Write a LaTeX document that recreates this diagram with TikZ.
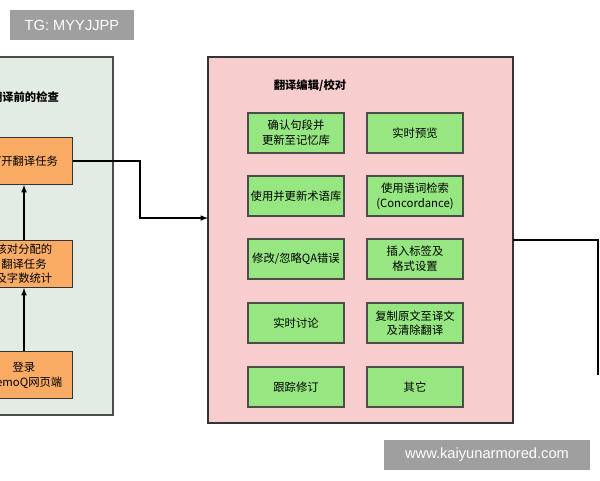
\documentclass[tikz,border=0pt]{standalone}
\usepackage{fontspec}
\setmainfont{Liberation Sans}
\newfontfamily\cjk{Noto Sans CJK SC}
\definecolor{orgf}{RGB}{250,172,100}
\definecolor{grnf}{RGB}{150,230,130}
\definecolor{lpan}{RGB}{226,236,226}
\definecolor{pink}{RGB}{248,205,205}
\begin{document}
\begin{tikzpicture}[x=0.75pt,y=-0.75pt,
 every node/.style={font=\cjk\fontsize{8.5}{11}\selectfont,align=center},
 org/.style={draw=black!80,fill=orgf,line width=0.9pt,minimum width=73pt,minimum height=35pt,inner sep=0},
 grn/.style={draw=black!70,fill=grnf,line width=0.9pt,minimum width=72pt,minimum height=30pt,inner sep=0},
 con/.style={line width=0.9pt,-latex}]
\useasboundingbox (0,0) rectangle (600,480);
\clip (0,0) rectangle (600,480);
\fill[white] (0,0) rectangle (600,480);
\draw[fill=lpan,draw=black!70,line width=0.8pt] (-20,57) rectangle (113,415);
\node[font=\cjk\bfseries\fontsize{8.5}{11}\selectfont] (t1) at (25,97) {翻译前的检查};
\node[org] (open) at (24,161) {打开翻译任务};
\node[org] (chk) at (24,264) {核对分配的\\翻译任务\\及字数统计};
\node[org] (log) at (24,375) {登录\\memoQ网页端};
\draw[con] (log) -- (chk);
\draw[con] (chk) -- (open);
\draw[fill=pink,draw=black!80,line width=0.8pt] (208,57) rectangle (513,423);
\node[font=\cjk\bfseries\fontsize{8.5}{11}\selectfont] (t2) at (310,86) {翻译编辑/校对};
\coordinate (pl) at (208,218);
\draw[con] (open.east) -- (140,161) -- (140,218) -- (pl);
\foreach \n/\x/\y/\t in {a/296/133/{确认句段并\\更新至记忆库},b/415/133/{实时预览},
 c/296/196/{使用并更新术语库},d/415/196/{使用语词检索\\(Concordance)},
 e/296/259/{修改/忽略QA错误},f/415/259/{插入标签及\\格式设置},
 g/296/323/{实时讨论},h/415/323/{复制原文至译文\\及清除翻译},
 i/296/387/{跟踪修订},j/415/387/{其它}}
 \node[grn] (\n) at (\x,\y) {\t};
\coordinate (pr) at (513,240);
\coordinate (rr) at (598,375);
\draw[line width=0.9pt] (pr) -- (598,240) -- (rr);
\node[fill=gray!75,text=white,font=\fontsize{11}{13}\selectfont,minimum width=93pt,minimum height=22pt] (w1) at (72,25) {TG: MYYJJPP};
\node[fill=gray!75,text=white,font=\fontsize{11}{13}\selectfont,minimum width=154pt,minimum height=22pt] (w2) at (487,455) {www.kaiyunarmored.com};
\end{tikzpicture}
\end{document}
